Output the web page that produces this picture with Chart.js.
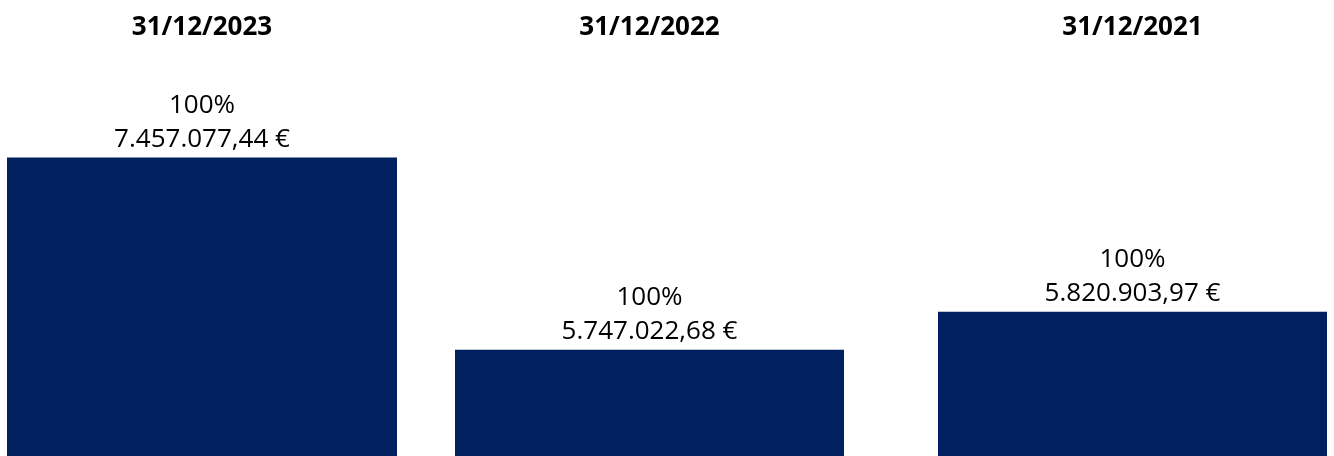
<!DOCTYPE html>
<html>
<head>
<meta charset="utf-8">
<script src="https://cdn.jsdelivr.net/npm/chart.js@4"></script>
<style>
  body { margin: 0; background: #fff; }
  #wrap { position: relative; width: 1334px; height: 456px; overflow: hidden; }
  canvas { position: absolute; top: 0; }
</style>
</head>
<body>
<div id="wrap">
  <canvas id="c0" width="390" height="456" style="left:7px"></canvas>
  <canvas id="c1" width="389" height="456" style="left:455px"></canvas>
  <canvas id="c2" width="389" height="456" style="left:938px"></canvas>
</div>
<script>
// one small chart per date, each with its own scale (as in the original)
const dates = ['31/12/2023', '31/12/2022', '31/12/2021'];
const values = [7457077.44, 5747022.68, 5820903.97];
const shares = ['100%', '100%', '100%'];
const axisMax = [10000000, 21680000, 16160000];

const barColor = '#002060';

// 7457077.44 -> "7.457.077,44 €"
function euro(v) {
  let parts = v.toFixed(2).split('.');
  let intPart = parts[0].replace(/\B(?=(\d{3})+(?!\d))/g, '.');
  return intPart + ',' + parts[1] + ' €';
}

// draws the two label lines above the bar
const barLabels = {
  id: 'barLabels',
  afterDatasetsDraw(chart) {
    let ctx = chart.ctx;
    let i = chart.options.plugins.barLabels.index;
    let bar = chart.getDatasetMeta(0).data[0];
    ctx.save();
    ctx.fillStyle = '#000';
    ctx.font = '26px "Open Sans"';
    ctx.textAlign = 'center';
    ctx.textBaseline = 'alphabetic';
    ctx.fillText(shares[i], bar.x, bar.y - 45);
    ctx.fillText(euro(values[i]), bar.x, bar.y - 11);
    ctx.restore();
  }
};

for (let i = 0; i < dates.length; i++) {
  new Chart(document.getElementById('c' + i), {
    type: 'bar',
    data: {
      labels: [dates[i]],
      datasets: [{
        data: [values[i]],
        backgroundColor: barColor,
        borderWidth: 0,
        barPercentage: 1,
        categoryPercentage: 1
      }]
    },
    options: {
      responsive: false,
      animation: false,
      devicePixelRatio: 1,
      layout: { padding: 0 },
      scales: {
        x: { display: false },
        y: { display: false, min: 0, max: axisMax[i] }
      },
      plugins: {
        legend: { display: false },
        tooltip: { enabled: false },
        title: {
          display: true,
          text: dates[i],
          color: '#000',
          font: { family: 'Open Sans', size: 26, weight: 'bold', lineHeight: 1.2 },
          padding: { top: 12, bottom: 13 }
        },
        barLabels: { index: i }
      }
    },
    plugins: [barLabels]
  });
}
</script>
</body>
</html>
